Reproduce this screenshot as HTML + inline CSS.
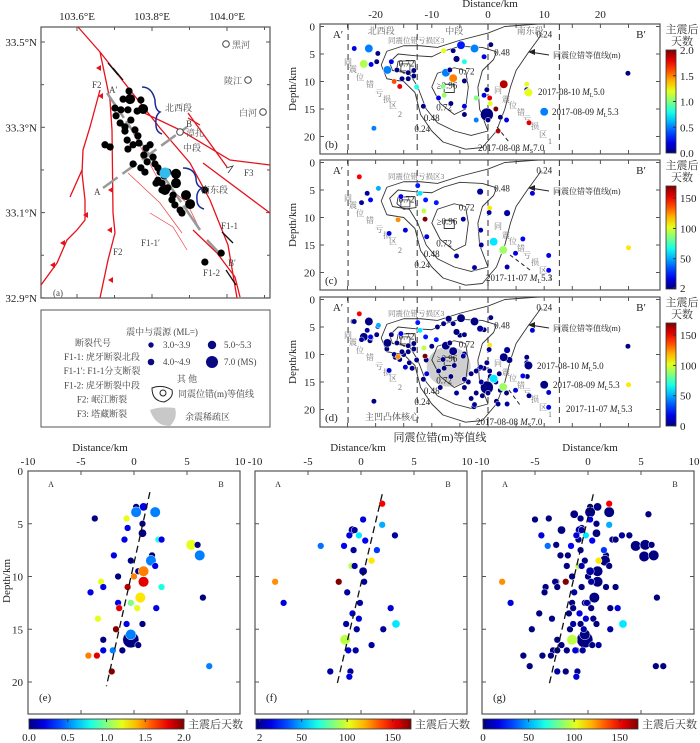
<!DOCTYPE html>
<html><head><meta charset="utf-8">
<style>
html,body{margin:0;padding:0;background:#fff;}
svg{display:block;font-family:"Liberation Serif","Noto Serif CJK SC",serif;}
</style></head>
<body>
<svg id="fig" width="700" height="743" viewBox="0 0 700 743" xmlns="http://www.w3.org/2000/svg"></svg>
<script>
// ---------------- DATA ----------------
// Map epicentres (a)
const mapLon=[103.719,103.703,103.722,103.751,103.757,103.681,103.697,103.716,103.741,103.684,103.724,103.695,103.708,103.735,103.743,103.708,103.654,103.668,103.714,103.716,103.730,103.746,103.765,103.776,103.759,103.784,103.730,103.768,103.789,103.751,103.762,103.797,103.803,103.814,103.824,103.797,103.792,103.808,103.816,103.846,103.846,103.824,103.838,103.808,103.873,103.884,103.835,103.857,103.843,103.862,103.924,103.968,103.924];
const mapLat=[33.385,33.366,33.366,33.364,33.343,33.345,33.341,33.341,33.338,33.327,33.317,33.310,33.301,33.294,33.280,33.291,33.259,33.254,33.270,33.249,33.259,33.263,33.251,33.259,33.235,33.230,33.214,33.219,33.214,33.205,33.195,33.205,33.195,33.186,33.195,33.176,33.169,33.169,33.153,33.191,33.169,33.158,33.141,33.153,33.141,33.120,33.130,33.106,33.118,33.099,33.153,33.005,32.984];
const mapSize=[1,1,2,1,2,1,1,1,1,1,1,1,1,1,1,1,1,1,1,1,1,1,1,1,1,1,1,1,1,1,1,1,1,1,1,1,1,1,2,2,2,1,1,1,2,2,1,1,1,1,1,1,1];

// Profile (b): days 0-2
const bX=[-23.8,-21.2,-19.6,-22.1,-20.8,-19.8,-17.2,-17.9,-16.2,-16.7,-15.7,-15.3,-14.2,-13.2,-13.2,-14.2,-12.7,-11.5,-7.9,-6.2,-4.8,-2.4,0.5,-0.7,-5.6,-4.2,-7.5,-6.2,-6.8,-4.2,-8.0,-7.8,-8.8,-6.6,-4.2,-4.2,-2.1,-2.1,-0.2,-0.7,0.3,0.4,1.4,2.8,2.2,3.3,-0.2,0.0,1.8,6.9,6.9,7.2,10.0,7.3,24.9,-20.3];
const bD=[4.0,4.0,4.9,6.8,6.9,6.4,6.4,7.9,7.9,10.0,10.9,9.5,8.4,8.0,9.0,9.5,11.0,14.5,4.4,4.4,3.4,4.0,3.3,5.5,5.9,6.4,8.4,9.4,7.9,9.9,10.9,12.5,13.0,14.0,14.5,16.0,17.0,13.0,11.5,12.5,13.0,14.0,15.0,10.5,16.5,17.0,16.0,17.0,19.0,10.5,11.5,12.0,15.5,17.5,8.5,18.5];
const bDays=[0.2,0.5,0,1.1,0.2,0,0.2,0.5,0,1.6,1.8,0,0,0,0,0,0.8,0,1.2,0,0.3,0.5,0,0.2,0,0.8,0.5,1.5,0,0,1.0,1.05,0.2,0,0.2,0,0.5,1.0,0,0.2,1.8,1.2,2.0,1.9,0,0.2,0,0,1.9,1.2,0.2,1.2,0.5,1.8,0,0.5];
const bSize=[1,3,1,3,1,1,1,3,1,1,1,1,1,1,1,1,1,1,1,1,3,3,1,1,2,1,3,3,1,1,1,1,1,1,1,1,1,1,1,1,1,1,1,3,1,1,4,1,1,1,1,3,3,1,1,1];

// Profile (c): days 2-170
const cX=[-22.9,-21.5,-22.5,-20.9,-19.5,-15.5,-16.0,-17.6,-14.7,-12.5,-12.1,-11.1,-9.2,-11.4,-11.2,-10.9,-4.4,-5.6,-2.4,-1.3,-1.2,-1.4,0.3,0.2,3.4,1.0,2.7,4.9,6.2,3.4,7.9,10.8,10.8,25.0];
const cD=[2.6,5.6,7.3,6.8,4.7,6.2,10.4,12.9,12.3,4.2,5.6,6.8,7.3,8.8,10.3,13.5,10.3,17.0,19.1,12.3,15.0,5.3,8.3,9.1,9.2,14.4,15.9,16.5,13.9,19.0,5.6,16.9,19.6,15.5];
const cDays=[150,5,5,20,50,20,125,15,15,25,60,25,25,95,170,15,5,5,5,5,5,5,110,5,5,60,90,15,20,5,15,15,20,110];
const cSize=[1,1,1,1,1,1,1,1,1,1,1,1,1,1,1,1,1,1,1,1,1,2,1,1,2,3,3,1,1,1,1,1,1,1];

// Profile (d): extra events not in (b)/(c)
const dX=[-24.0,-21.0,-18.0,-15.0,-13.5,-11.0,-9.0,-7.0,-5.0,-3.0,-8.5,-6.0,-3.5,-1.5,0.8,-3.0,-16.5,-14.0,-10.0,-1.0,2.0,7.0,-2.5,1.5,3.8];
const dD=[4.0,7.5,9.0,10.0,12.5,11.0,5.0,3.5,6.5,13.5,16.0,12.0,15.0,12.5,14.5,18.0,10.5,11.5,8.5,17.5,13.5,14.0,19.5,18.5,11.0];
const dDays=[0,0,0,0,0,0,0,0,0,0,0,0,0,0,0,0,0,0,0,0,0,0,0,0,0];
const dSize=[1,1,1,1,1,1,1,2,1,1,1,1,1,1,1,1,1,1,1,1,1,1,1,1,2];

// Contours (km, km)
const c024X=[9.5,7,5,4,3,1.5,-1,-4,-8,-10,-12,-13,-15,-18,-19,-18,-15,-12,-9,-5,0,3,9.5];
const c024D=[1.5,5,8,11,15,19,22,22.3,21,19,16,12,10,9.5,7,4.5,3.5,3.5,3.8,2.5,1.2,0,-0.5];
const c048X=[1.5,-1,-5,-8,-10,-13,-16,-17.5,-17,-14,-12.5,-11,-9,-6,-3,0,-1.5,-1.8,-1,1,1.5];
const c048D=[4.6,3.8,3.6,4.5,5.5,5.3,5,6.5,8,8.5,11,15,17.5,19,19.8,19,15,11,8,6,4.6];
const c072aX=[-16,-13,-12.8,-15,-16.2,-16];
const c072aD=[6.3,6.2,8.2,8.5,7.5,6.3];
const c072bX=[-4,-6,-9,-10,-8.5,-6,-4,-3.5,-4];
const c072bD=[8,7.5,8.5,11,14,16,15,11,8];
const c096X=[-7.8,-6,-6,-7.8,-7.8];
const c096D=[10.5,10.5,12,12,10.5];

// Bottom profiles (e) days 0-2
const eX=[0.2,0.9,0.2,2.0,-3.7,-0.7,0.8,-0.6,0.8,-0.9,2.3,2.6,5.4,6.0,6.2,-1.9,1.7,-0.3,1.6,2.0,0.4,0.9,-1.5,0.0,-3.1,0.9,-2.9,-0.6,2.6,-4.1,6.5,0.6,-1.5,-0.3,0.3,-1.4,2.1,-3.4,-0.7,0.8,-1.7,-0.3,-0.3,-2.9,0.4,-2.9,-2.0,-1.1,-4.3,-3.5,-2.1,7.1];
const eD=[3.4,3.4,3.9,3.9,4.5,4.5,5.0,5.4,5.9,6.5,6.5,6.5,7.0,7.0,8.0,8.0,8.0,8.5,8.5,9.0,9.5,9.5,10.0,10.0,10.5,10.5,11.0,11.0,11.0,11.5,12.0,12.0,12.5,12.5,13.0,13.0,13.0,14.0,14.5,14.5,15.0,16.0,15.5,16.0,16.5,17.0,17.0,17.0,17.5,17.5,19.0,18.5];
const eDays=[0,0.2,0.5,0.5,0,1.2,0,0.2,0,0.2,0.8,0.2,1.2,0,0.5,0.2,0,0,0.5,0.2,0,1.5,0,1.5,1.2,1.8,0.2,1.9,0.8,0.2,0,1.3,0.2,1.0,1.2,1.8,0.2,1.2,0.2,0,2.0,0,0.5,0,0,0.2,0.5,0,1.5,1.8,2.0,0.5];
const eSize=[1,2,3,3,1,1,1,1,2,1,1,1,3,1,3,1,1,1,3,1,1,3,1,1,1,3,1,1,1,1,1,3,1,1,1,1,1,1,1,1,1,4,3,1,1,1,1,1,1,1,1,1];

// (f) days 2-170
const fX=[2.0,0.2,2.0,-0.8,-0.6,-1.1,-0.2,3.2,0.4,-3.8,-1.6,-0.7,1.5,1.0,-0.9,-0.6,0.2,-8.1,-2.1,0.3,-1.3,-7.3,-0.1,2.8,-0.8,-0.2,3.3,-1.4,-0.4,2.1,-1.5,1.0,-1.2,-0.5,-2.9,-1.0,-1.1];
const fD=[3.1,4.6,5.1,5.6,5.6,6.1,6.1,6.1,6.6,7.1,7.1,7.5,7.5,8.5,9.0,9.0,9.5,10.5,10.5,10.5,11.5,12.5,12.5,13.0,13.5,14.0,14.5,14.5,15.0,15.0,16.0,16.5,17.0,17.0,19.0,19.0,19.5];
const fDays=[150,15,50,5,5,15,60,5,20,40,20,5,30,110,95,5,5,125,170,5,5,15,5,15,15,15,60,5,5,5,95,5,15,5,5,5,15];
const fSize=[1,1,1,2,1,1,1,1,1,1,1,1,1,1,1,1,2,1,1,1,1,1,1,1,1,1,2,1,1,1,3,1,1,1,1,1,1];

// (g) extra events
const gX=[5.7,4.5,5.3,-5.0,-4.4,-3.0,-2.5,-1.3,1.0,-5.3,-4.6,-6.1,-5.5,6.4,-3.3,-2.0,-2.6,-1.8,0.0,-0.5,1.7,-2.5,-3.0,-4.0,-1.5,0.5,3.9,5.2];
const gD=[4.1,7.1,8.1,4.6,6.1,7.0,5.6,4.1,9.5,15.0,13.5,17.5,18.5,18.5,17.0,9.0,8.0,13.5,12.5,16.0,11.0,16.5,10.5,11.0,10.0,14.0,6.1,7.1];
const gDays=[0,0,0,0,15,0,0,0,0,0,0,0,0,0,0,0,0,0,0,0,0,0,0,0,0,0,0,0];
const gSize=[1,3,3,1,1,1,2,2,1,1,1,1,1,1,1,1,1,1,1,1,1,1,1,1,1,1,1,1];

// Colorbar tick labels
const tickB=["2.0","1.5","1.0","0.5","0.0"];
const tickCD=[150,100,50];
// ---------------- DRAW ----------------
const NS="http://www.w3.org/2000/svg";
const svg=document.getElementById('fig');
function mk(tag,attrs,parent){const e=document.createElementNS(NS,tag);for(const k in attrs)e.setAttribute(k,attrs[k]);(parent||svg).appendChild(e);return e;}
function txt(x,y,s,size,anchor,parent,fill){const t=mk('text',{x:x,y:y,'font-size':size||11,'text-anchor':anchor||'start',fill:fill||'#222'},parent);t.textContent=s;return t;}
function jet(t){t=Math.max(0,Math.min(1,t));const f=v=>Math.round(255*Math.max(0,Math.min(1,1.5-Math.abs(v))));return `rgb(${f(4*t-3)},${f(4*t-2)},${f(4*t-1)})`;}
const RAD=[0,2.7,3.3,4.2,6.5];

const defs=mk('defs',{});
function grad(id,vert){const g=mk('linearGradient',{id:id,x1:0,y1:vert?1:0,x2:vert?0:1,y2:0},defs);for(let i=0;i<=10;i++)mk('stop',{offset:i/10,'stop-color':jet(i/10)},g);}
grad('jv',true);grad('jh',false);

// ---- MAP (a) ----
const mapG=mk('g',{});


const lonX=l=>85+(l-103.6)*370, latY=l=>42+(33.5-l)*426.5;
const tickX=l=>77+(l-103.6)*375;
mk('rect',{x:41,y:27,width:229,height:271,fill:'#fff',stroke:'#555','stroke-width':1.2},mapG);
[[103.6,'103.6°E'],[103.8,'103.8°E'],[104.0,'104.0°E']].forEach(a=>{const x=tickX(a[0]);txt(x,20,a[1],11,'middle',mapG);mk('line',{x1:x,y1:27,x2:x,y2:31,stroke:'#555'},mapG);mk('line',{x1:x,y1:298,x2:x,y2:294,stroke:'#555'},mapG);});
[103.7,103.9,104.1].forEach(l=>{const x=tickX(l);mk('line',{x1:x,y1:27,x2:x,y2:30,stroke:'#555'},mapG);mk('line',{x1:x,y1:298,x2:x,y2:295,stroke:'#555'},mapG);});
[[33.5,'33.5°N'],[33.3,'33.3°N'],[33.1,'33.1°N'],[32.9,'32.9°N']].forEach(a=>{const y=latY(a[0]);txt(37,y+4,a[1],11,'end',mapG);mk('line',{x1:41,y1:y,x2:45,y2:y,stroke:'#555'},mapG);mk('line',{x1:270,y1:y,x2:266,y2:y,stroke:'#555'},mapG);});
[33.4,33.2,33.0].forEach(l=>{const y=latY(l);mk('line',{x1:41,y1:y,x2:44,y2:y,stroke:'#555'},mapG);mk('line',{x1:270,y1:y,x2:267,y2:y,stroke:'#555'},mapG);});
const faults=[
 [[78,27],[100,52],[130,90],[160,128],[190,163],[210,200],[228,245],[237,298]],
 [[100,52],[110,100],[112,130],[113,213],[115,233],[108,260],[100,298]],
 [[100,90],[90,127],[83,150],[82,173],[85,200],[85,220],[77,230],[67,240],[57,263],[41,285]],
 [[82,170],[70,197]],
 [[138,110],[180,130],[230,160],[270,165]],
 [[188,113],[227,167]],[[203,163],[270,213]],[[188,118],[200,125]],
 [[193,230],[217,253],[235,277],[240,297]]];
faults.forEach((f,i)=>{const p=mk('polyline',{points:f.map(q=>q.join(',')).join(' '),fill:'none',stroke:'#e8101a','stroke-width':1.3},mapG);});
[[[128,173],[160,203],[182,233]],[[150,213],[173,227],[187,250]],[[133,133],[157,177],[187,203],[200,230]]].forEach(f=>mk('polyline',{points:f.map(q=>q.join(',')).join(' '),fill:'none',stroke:'#f04048','stroke-width':0.7},mapG));
[[101,68],[103,96],[111,148],[113,190],[112,230],[113,280],[88,215],[65,243],[55,265]].forEach(q=>mk('polygon',{points:`${q[0]},${q[1]-3} ${q[0]},${q[1]+3} ${q[0]-5},${q[1]}`,fill:'#e8101a'},mapG));
mk('line',{x1:107,y1:93,x2:200,y2:230,stroke:'#999','stroke-width':2.5,'stroke-dasharray':'30,4'},mapG);
mk('line',{x1:103,y1:188,x2:187,y2:127,stroke:'#999','stroke-width':2.5,'stroke-dasharray':'18,6'},mapG);
mk('line',{x1:207,y1:240,x2:220,y2:254,stroke:'#999','stroke-width':2.5},mapG);
mk('path',{d:'M142,87 Q152,87 155,100 Q155,110 160,112 Q155,115 156,125 Q156,132 162,134',fill:'none',stroke:'#1a2a9a','stroke-width':1.5},mapG);
mk('path',{d:'M183,168 Q194,168 196,178 Q196,186 202,188 Q196,191 197,200 Q197,207 204,209',fill:'none',stroke:'#1a2a9a','stroke-width':1.5},mapG);
mapLon.forEach((l,i)=>{const c=mk('circle',{cx:lonX(l),cy:latY(mapLat[i]),r:mapSize[i]==2?5:3.6,fill:'#000'},mapG);});
const ms=mk('circle',{cx:165,cy:173,r:5.5,fill:'#33bbee'},mapG);


[[226,44,'黑河',1],[248,80,'陵江',-1],[263,112,'白河',-1],[180,132,'漳扎',1]].forEach(c=>{mk('circle',{cx:c[0],cy:c[1],r:3.3,fill:'#fff',stroke:'#444'},mapG);txt(c[3]>0?c[0]+6:c[0]-6,c[1]+4,c[2],9,c[3]>0?'start':'end',mapG,'#555');});
[[92,88,'F2'],[109,93,'A′'],[165,111,'北西段'],[186,127,'B'],[183,151,'中段'],[244,176,'F3'],[201,193,'南东段'],[94,195,'A'],[221,229,'F1-1'],[141,246,'F1-1′'],[113,255,'F2'],[203,276,'F1-2'],[228,266,'B′'],[53,296,'(a)']].forEach(t=>txt(t[0],t[1],t[2],9,'start',mapG,'#444'));
mk('polyline',{points:'226,168 233,166 228,173',fill:'none',stroke:'#333','stroke-width':0.8},mapG);
[[113,68,123,80],[118,75,108,63],[222,232,233,243],[226,270,236,285]].forEach(a=>mk('line',{x1:a[0],y1:a[1],x2:a[2],y2:a[3],stroke:'#111','stroke-width':1.3},mapG));

// ---- Legend ----
const lg=mk('g',{});


mk('rect',{x:41,y:310,width:229,height:117,fill:'#fff',stroke:'#555'},lg);
txt(93,346,'断裂代号',9,'middle',lg,'#444');
['F1-1: 虎牙断裂北段','F1-1′: F1-1分支断裂','F1-2: 虎牙断裂中段','F2: 岷江断裂','F3: 塔藏断裂'].forEach((s,i)=>txt(102,360+i*14.2,s,9,'middle',lg,'#444'));
txt(162,335,'震中与震源 (ML=)',9,'middle',lg,'#444');
[[151,345,2.7,'3.0~3.9'],[212,345,4.2,'5.0~5.3'],[151,362,3.3,'4.0~4.9'],[212,362,6,'7.0 (MS)']].forEach(a=>{mk('circle',{cx:a[0],cy:a[1],r:a[2],fill:'#0a0a80'},lg);txt(a[0]+12,a[1]+3,a[3],9,'start',lg,'#444');});
txt(187,382,'其 他',9,'middle',lg,'#444');
mk('path',{d:'M152,388 Q162,384 172,390 Q174,398 164,402 Q152,401 152,388Z',fill:'none',stroke:'#222'},lg);
mk('circle',{cx:163,cy:393,r:3,fill:'none',stroke:'#222'},lg);
txt(178,397,'同震位错(m)等值线',9,'start',lg,'#444');
mk('path',{d:'M150,410 Q160,406 175,408 Q178,418 170,426 Q155,426 150,410Z',fill:'#c8c8c8'},lg);
txt(185,420,'余震稀疏区',9,'start',lg,'#444');

// ---- Top profiles ----
function topPanel(name,top,letter,pts,cmax,ticks,showTop){
 const g=mk('g',{});
 
 
 const L=320,R=660,B=top+130;
 const X=x=>488+x*5.62, Y=d=>top+2.5+d*5.5;
 mk('rect',{x:L,y:top,width:R-L,height:130,fill:'#fff',stroke:'#555','stroke-width':1.2},g);
 if(name==='profile-d')mk('ellipse',{cx:X(-7),cy:Y(12.2),rx:22,ry:20,fill:'#cfcfcf'},g);
 [-25,-20,-15,-10,-5,0,5,10,15,20,25].forEach(v=>{const x=X(v);mk('line',{x1:x,y1:top,x2:x,y2:top+4,stroke:'#555'},g);mk('line',{x1:x,y1:B,x2:x,y2:B-4,stroke:'#555'},g);});
 [0,5,10,15,20].forEach(v=>{const y=Y(v);txt(L-5,y+4,String(v),11,'end',g);mk('line',{x1:L,y1:y,x2:L+4,y2:y,stroke:'#555'},g);mk('line',{x1:R,y1:y,x2:R-4,y2:y,stroke:'#555'},g);});
 const yl=txt(0,0,'Depth/km',11,'middle',g);yl.setAttribute('transform',`translate(${L-24},${top+65}) rotate(-90)`);
 if(showTop){[-20,-10,0,10,20].forEach(v=>txt(X(v),18,String(v),11,'middle',g));txt(490,7,'Distance/km',11,'middle',g);
  txt(X(-19),top+10,'北西段',9,'middle',g,'#666');txt(X(-6),top+10,'中段',9,'middle',g,'#666');txt(X(7.5),top+10,'南东段',9,'middle',g,'#666');}
 [-24.9,-12.6,0,12.7].forEach(v=>mk('line',{x1:X(v),y1:top,x2:X(v),y2:B,stroke:'#333','stroke-dasharray':'6,4'},g));
 const line=(xs,ds)=>mk('polyline',{points:xs.map((x,i)=>X(x)+','+Y(ds[i])).join(' '),fill:'none',stroke:'#333','stroke-width':0.9,'stroke-linejoin':'round'},g);
 const cl=mk('clipPath',{id:'cp'+name},defs);mk('rect',{x:L,y:top,width:R-L,height:130},cl);
 const cg=mk('g',{'clip-path':`url(#cp${name})`},g);
 [[c024X,c024D],[c048X,c048D],[c072aX,c072aD],[c072bX,c072bD],[c096X,c096D]].forEach(c=>{const p=line(c[0],c[1]);cg.appendChild(p);});
 mk('rect',{x:X(-15.5),y:Y(6.8),width:9,height:7,fill:'none',stroke:'#333','stroke-width':0.8},g);
 [[-14.5,7.3,'0.72'],[-3.8,8.7,'0.72'],[2.5,5.3,'0.48'],[10,2,'0.24'],[-7.8,15.3,'0.72'],[-10,17.2,'0.48'],[-11.7,19.2,'0.24']].forEach(t=>txt(X(t[0]),Y(t[1]),t[2],9,'middle',g));
 txt(X(-7.3),Y(11.3),'≥0.96',9,'middle',g);
 txt(338,top+14,'A′',11,'middle',g);txt(641,top+14,'B′',11,'middle',g);
 txt(388,top+19,'同震位错亏损区3',7.5,'start',g,'#777');
 [['同',348,41],['震',353,48],['位',360,56],['错',370,63],['亏',379,72],['损',387,78],['区',393,84],['2',400,93]].forEach(c=>txt(c[1],top+c[2],c[0],8,'middle',g,'#777'));
 [['同',498,69],['震',506,78],['位',513,84],['错',521,91],['亏',527,98],['损',535,105],['区',543,113],['1',550,120]].forEach(c=>txt(c[1],top+c[2],c[0],8,'middle',g,'#777'));
 mk('line',{x1:549,y1:top+31,x2:530,y2:top+28,stroke:'#222'},g);mk('polygon',{points:`528,${top+28} 535,${top+25} 535,${top+31}`,fill:'#222'},g);
 txt(553,top+34,'同震位错等值线(m)',8,'start',g);
 txt(325,top+124,letter,11,'start',g);
 pts.forEach(p=>{const c=mk('circle',{cx:X(p[0]),cy:Y(p[1]),r:RAD[p[3]],fill:jet(p[2]/cmax),stroke:'#fff','stroke-width':0.5},g);});
 const cbT=top+26,cbB=top+129;
 mk('rect',{x:666,y:cbT,width:10,height:cbB-cbT,fill:'url(#jv)',stroke:'#333','stroke-width':0.8},g);
 txt(682,top+9,'主震后',11,'middle',g,'#333');
 txt(682,top+21,'天数',11,'middle',g,'#333');
 ticks.forEach(t=>{const y=cbB-(t[0]/cmax)*(cbB-cbT);txt(680,y+4,String(t[1]),11,'start',g);mk('line',{x1:676,y1:y,x2:673,y2:y,stroke:'#333'},g);});
 return {g,X,Y};
}
const bPts=bX.map((x,i)=>[x,bD[i],bDays[i],bSize[i]]);
const cPts=cX.map((x,i)=>[x,cD[i],cDays[i],cSize[i]]);
const dPts=dX.map((x,i)=>[x,dD[i],dDays[i],dSize[i]]).concat(bPts.map(p=>[p[0],p[1],p[2],p[3]]),cPts);
const tB=tickB.map(s=>[parseFloat(s),s]);
const pb=topPanel('profile-b',24,'(b)',bPts,2,tB,true);
const pc=topPanel('profile-c',160,'(c)',cPts,170,tickCD.map(v=>[v,v]).concat([[2,2]]),false);
const pd=topPanel('profile-d',297,'(d)',dPts,170,tickCD.map(v=>[v,v]).concat([[0,0]]),false);
function ann(g,x,y,date,sub,mag){const t=txt(x,y,date+' ',9,'start',g);const s=mk('tspan',{'font-style':'italic'},t);s.textContent='M';const sb=mk('tspan',{'font-size':6,dy:2},t);sb.textContent=sub;const m=mk('tspan',{dy:-2},t);m.textContent=mag;}
ann(pb.g,538,95,'2017-08-10','L','5.0');ann(pb.g,552,115,'2017-08-09','L','5.3');ann(pb.g,478,151,'2017-08-08','S','7.0');
mk('line',{x1:497,y1:127,x2:509,y2:142,stroke:'#222','stroke-dasharray':'4,3'},pb.g);
ann(pc.g,486,281,'2017-11-07','L','5.3');mk('line',{x1:510,y1:255,x2:530,y2:270,stroke:'#222','stroke-dasharray':'4,3'},pc.g);
ann(pd.g,537,369,'2017-08-10','L','5.0');ann(pd.g,553,388,'2017-08-09','L','5.3');ann(pd.g,566,412,'2017-11-07','L','5.3');ann(pd.g,476,425,'2017-08-08','S','7.0');
txt(392,420,'主凹凸体核心',9,'middle',pd.g,'#444');
mk('line',{x1:509,y1:390,x2:520,y2:405,stroke:'#222','stroke-dasharray':'4,3'},pd.g);
const bt=txt(440,441,'同震位错(m)等值线',11,'middle');



// ---- Bottom profiles ----
function botPanel(name,L,letter,pts,cmax,cticks,showDepth,title){
 const g=mk('g',{});
 
 
 const T=471,Bt=714,W=212;
 const X=x=>L+(x+10)*10.6, Y=d=>T+d*10.55;
 mk('rect',{x:L,y:T,width:W,height:Bt-T,fill:'#fff',stroke:'#555','stroke-width':1.2},g);
 [-10,-5,0,5,10].forEach(v=>{const x=X(v);txt(x,465,String(v),11,'middle',g);mk('line',{x1:x,y1:T,x2:x,y2:T+4,stroke:'#555'},g);mk('line',{x1:x,y1:Bt,x2:x,y2:Bt-4,stroke:'#555'},g);});
 [0,5,10,15,20].forEach(v=>{const y=Y(v);if(showDepth)txt(L-5,y+4,String(v),11,'end',g);mk('line',{x1:L,y1:y,x2:L+4,y2:y,stroke:'#555'},g);mk('line',{x1:L+W,y1:y,x2:L+W-4,y2:y,stroke:'#555'},g);});
 if(showDepth){const yl=txt(0,0,'Depth/km',11,'middle',g);yl.setAttribute('transform',`translate(${L-18},${T+110}) rotate(-90)`);}
 txt(title,451,'Distance/km',11,'middle',g);
 txt(L+23,487,'A',8,'middle',g);txt(L+193,487,'B',8,'middle',g);
 txt(L+11,701,letter,11,'start',g);
 pts.forEach(p=>{const c=mk('circle',{cx:X(p[0]),cy:Y(p[1]),r:RAD[p[3]]*1.25,fill:jet(p[2]/cmax),stroke:'#fff','stroke-width':0.5},g);});
 mk('rect',{x:L+1,y:719,width:155,height:10,fill:'url(#jh)',stroke:'#333','stroke-width':0.8},g);
 txt(L+160,728,'主震后天数',11,'start',g,'#333');
 cticks.forEach(t=>{const x=L+1+(t[0]/cmax)*155;txt(x,741,String(t[1]),11,'middle',g);mk('line',{x1:x,y1:719,x2:x,y2:722,stroke:'#333'},g);});
 return {g,X,Y};
}
const ePts=eX.map((x,i)=>[x,eD[i],eDays[i],eSize[i]]);
const fPts=fX.map((x,i)=>[x,fD[i],fDays[i],fSize[i]]);
const gPts=gX.map((x,i)=>[x,gD[i],gDays[i],gSize[i]]).concat(ePts.map(p=>[p[0],p[1],0,p[3]]),fPts);
const pe=botPanel('profile-e',28,'(e)',ePts,2,[[0,'0.0'],[0.5,'0.5'],[1,'1.0'],[1.5,'1.5'],[2,'2.0']],true,100);
const pf=botPanel('profile-f',255,'(f)',fPts,170,[[4,2],[50,50],[100,100],[150,150]],false,358);
const pg=botPanel('profile-g',482,'(g)',gPts,170,[[0,0],[50,50],[100,100],[150,150]],false,590);
[[pe,1.5,2.0,-2.6,20.4],[pf,2.0,2.2,-2.3,20.4],[pg,0.5,2.2,-3.7,20.4]].forEach(a=>{const l=mk('line',{x1:a[0].X(a[1]),y1:a[0].Y(a[2]),x2:a[0].X(a[3]),y2:a[0].Y(a[4]),stroke:'#111','stroke-width':1.3,'stroke-dasharray':'7,4'},a[0].g);});
</script>
</body></html>
